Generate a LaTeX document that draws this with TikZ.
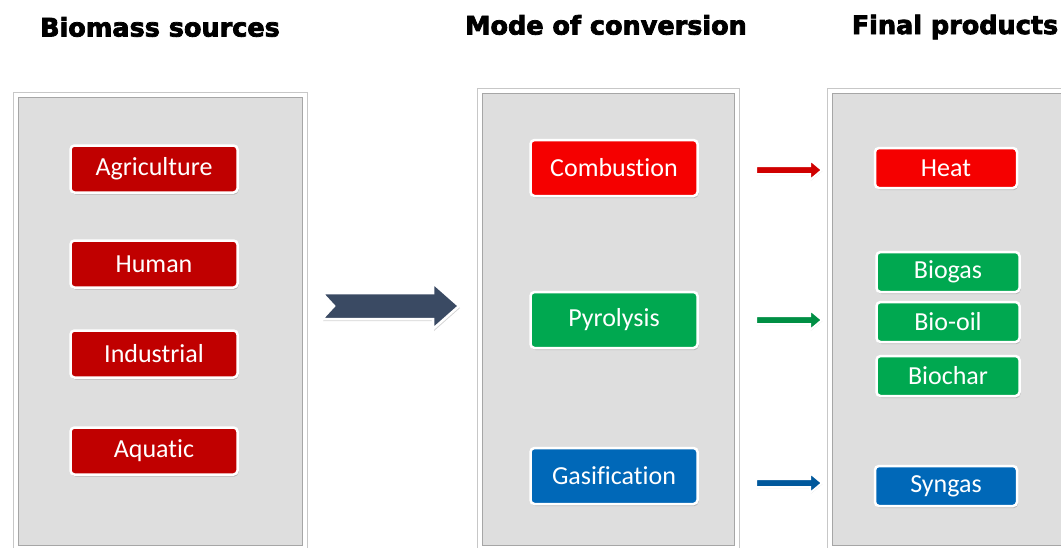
\documentclass[tikz,border=0pt]{standalone}
\usepackage{fontspec}
\setmainfont{Carlito}[Ligatures=NoCommon]
\newfontfamily\titlefont{DejaVu Sans Bold}[FakeBold=3]
\usetikzlibrary{shadows,calc}
\definecolor{panelgray}{HTML}{DEDEDE}
\definecolor{darkred}{HTML}{C00000}
\definecolor{brightred}{HTML}{F50000}
\definecolor{mygreen}{HTML}{00A850}
\definecolor{myblue}{HTML}{0068B8}
\definecolor{arrowslate}{HTML}{3A4A63}
\tikzset{
  px/.style={x=1pt,y=-1pt},
  panelout/.style={fill=white,draw=black!22,line width=1pt},
  panelin/.style={fill=panelgray,draw=black!35,line width=0.8pt},
  btn/.style={rounded corners=4pt,draw=white,line width=2.5pt,text=white,font=\fontsize{26}{28}\selectfont,
     drop shadow={shadow xshift=1pt,shadow yshift=-2pt,opacity=0.4}},
  title/.style={font=\titlefont\fontsize{25.5}{28}\selectfont,text=black},
}
\begin{document}
\begin{tikzpicture}[px]
\useasboundingbox (0,0) rectangle (1061,547);
% titles
\node[title] (t1) at (160,27) {Biomass sources};
\node[title] (t2) at (606,25) {Mode of conversion};
\node[title] (t3) at (955,27) {Final products};
% panels
\filldraw[panelout] (13,92) rectangle (307,552);
\filldraw[panelin] (18,97) rectangle (302,545);
\filldraw[panelout] (477,88) rectangle (739,552);
\filldraw[panelin] (482,93) rectangle (734,545);
\filldraw[panelout] (827,88) rectangle (1070,552);
\filldraw[panelin] (832,93) rectangle (1070,545);
% left buttons
\foreach \n/\t/\y in {ag/Agriculture/169, hu/Human/264, in/Industrial/354, aq/Aquatic/451}{
  \node[btn,fill=darkred,minimum width=167pt,minimum height=47pt] (\n) at (154,\y) {\t};
}
% middle buttons
\node[btn,fill=brightred,minimum width=167pt,minimum height=56pt] (co) at (614,168) {Combustion};
\node[btn,fill=mygreen,minimum width=167pt,minimum height=56pt] (py) at (614,320) {Pyrolysis};
\node[btn,fill=myblue,minimum width=167pt,minimum height=56pt] (ga) at (614,476) {Gasification};
% right buttons
\node[btn,fill=brightred,minimum width=142pt,minimum height=40pt] (he) at (946,168) {Heat};
\node[btn,fill=mygreen,minimum width=143pt,minimum height=40pt] (bg) at (948,272) {Biogas};
\node[btn,fill=mygreen,minimum width=143pt,minimum height=40pt] (bo) at (948,322) {Bio-oil};
\node[btn,fill=mygreen,minimum width=143pt,minimum height=40pt] (bc) at (948,376) {Biochar};
\node[btn,fill=myblue,minimum width=142pt,minimum height=40pt] (sy) at (946,486) {Syngas};
% big arrow
\filldraw[fill=arrowslate,draw=white,line width=2.5pt,drop shadow={shadow xshift=1pt,shadow yshift=-2pt,opacity=0.35}]
  (322,293) -- (433,293) -- (433,283) -- (459,306) -- (433,329) -- (433,319) -- (322,319) -- (334,306) -- cycle;
% small arrows
\foreach \c/\y in {brightred/170, mygreen/320, myblue/483}{
  \filldraw[fill=\c!85!black,draw=white,line width=2pt,drop shadow={shadow xshift=0.5pt,shadow yshift=-1pt,opacity=0.3}]
    (756,\y-4) -- (810,\y-4) -- (810,\y-10) -- (822,\y) -- (810,\y+10) -- (810,\y+4) -- (756,\y+4) -- cycle;
}
\end{tikzpicture}
\end{document}
